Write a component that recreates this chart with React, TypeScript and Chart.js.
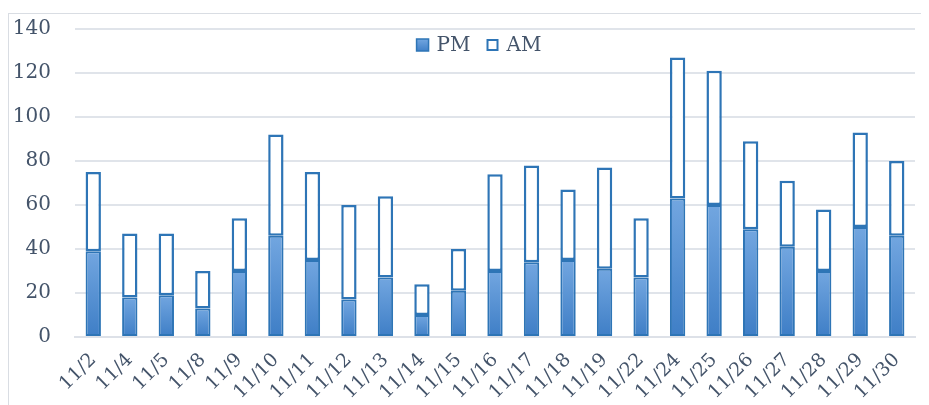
import React, { useEffect, useRef } from "react";
import { Chart, registerables } from "chart.js";

Chart.register(...registerables);

const categories = ["11/2", "11/4", "11/5", "11/8", "11/9", "11/10", "11/11", "11/12", "11/13", "11/14", "11/15", "11/16", "11/17", "11/18", "11/19", "11/22", "11/24", "11/25", "11/26", "11/27", "11/28", "11/29", "11/30"];
const pmValues = [39, 18, 19, 13, 30, 46, 35, 17, 27, 10, 21, 30, 34, 35, 31, 27, 63, 60, 49, 41, 30, 50, 46];
const amValues = [36, 29, 28, 17, 24, 46, 40, 43, 37, 14, 19, 44, 44, 32, 46, 27, 64, 61, 40, 30, 28, 43, 34];
const yTicks = [0, 20, 40, 60, 80, 100, 120, 140];

const FONT = "'DejaVu Serif', serif";
const TEXT = "#44546a";
const BLUE = "#2e75b6";

const legendPlugin = {
  id: "topLegend",
  afterDraw(chart: any) {
    const c = chart.ctx;
    const items = chart.data.datasets.map((d: any) => d.label);
    c.save();
    c.font = `20px ${FONT}`;
    c.textBaseline = "middle";
    const box = 12;
    const gap = 8;
    const itemGap = 16;
    let total = 0;
    items.forEach((t: string, i: number) => {
      total += box + gap + c.measureText(t).width + (i < items.length - 1 ? itemGap : 0);
    });
    const cy = 35;
    let x = 471 - total / 2;
    items.forEach((t: string, i: number) => {
      if (i === 0) {
        const g = c.createLinearGradient(0, cy - box / 2, 0, cy + box / 2);
        g.addColorStop(0, "#72a6e0");
        g.addColorStop(1, "#4080c8");
        c.fillStyle = g;
        c.fillRect(x, cy - box / 2, box, box);
        c.strokeStyle = BLUE;
        c.lineWidth = 1.5;
        c.strokeRect(x, cy - box / 2, box, box);
      } else {
        c.fillStyle = "#ffffff";
        c.fillRect(x, cy - box / 2, box, box);
        c.strokeStyle = BLUE;
        c.lineWidth = 2;
        c.strokeRect(x + 1, cy - box / 2 + 1, box - 2, box - 2);
      }
      x += box + gap;
      c.fillStyle = TEXT;
      c.fillText(t, x, cy + 1);
      x += c.measureText(t).width + itemGap;
    });
    c.restore();
  },
};

export default function App() {
  const ref = useRef<HTMLCanvasElement | null>(null);
  useEffect(() => {
    if (!ref.current) return;
    const pmFill = (ctx: any) => {
      const chart = ctx.chart;
      if (!chart.chartArea || ctx.raw === undefined) return "#5b93d3";
      const ys = chart.scales.y;
      const top = ys.getPixelForValue(ctx.raw);
      const base = ys.getPixelForValue(0);
      if (!isFinite(top) || !isFinite(base) || top === base) return "#5b93d3";
      const g = chart.ctx.createLinearGradient(0, top, 0, base);
      g.addColorStop(0, "#72a6e0");
      g.addColorStop(1, "#3e7ec6");
      return g;
    };
    const chart = new Chart(ref.current, {
      type: "bar",
      data: {
        labels: categories,
        datasets: [
          {
            label: "PM",
            data: pmValues,
            backgroundColor: pmFill,
            borderColor: BLUE,
            borderWidth: 2,
            borderSkipped: false,
            barPercentage: 0.42,
            categoryPercentage: 1,
          },
          {
            label: "AM",
            data: amValues,
            backgroundColor: "#ffffff",
            borderColor: BLUE,
            borderWidth: 2.5,
            borderSkipped: false,
            barPercentage: 0.42,
            categoryPercentage: 1,
          },
        ],
      },
      options: {
        animation: false,
        responsive: false,
        layout: { padding: { top: 19, right: 14, left: 0, bottom: 0 } },
        plugins: { legend: { display: false }, tooltip: { enabled: false } },
        scales: {
          x: {
            stacked: true,
            grid: { display: false },
            border: { display: true, color: "#dde1e8", width: 2 },
            ticks: {
              color: TEXT,
              font: { family: FONT, size: 19 },
              maxRotation: 45,
              minRotation: 45,
              autoSkip: false,
              padding: 4,
            },
            afterFit: (s: any) => {
              s.height = 68;
              s.paddingLeft = 0;
              s.paddingRight = 0;
            },
          },
          y: {
            stacked: true,
            min: 0,
            max: 140,
            afterBuildTicks: (s: any) => {
              s.ticks = yTicks.map((v) => ({ value: v }));
            },
            grid: { color: "#e0e4ea", lineWidth: 2, drawTicks: false },
            border: { display: false },
            ticks: {
              color: TEXT,
              font: { family: FONT, size: 20 },
              padding: 24,
            },
            afterFit: (s: any) => {
              s.width = 67;
              s.paddingTop = 0;
              s.paddingBottom = 0;
            },
          },
        },
      },
      plugins: [legendPlugin],
    });
    return () => chart.destroy();
  }, []);
  return (
    <div style={{ position: "relative", width: 921, height: 397 }}>
      <div
        style={{
          position: "absolute",
          left: 0,
          top: 5,
          width: 940,
          height: 420,
          borderLeft: "1px solid #d9dde3",
          borderTop: "1px solid #d9dde3",
        }}
      />
      <canvas ref={ref} width={921} height={395} style={{ position: "absolute", left: 0, top: 2 }} />
    </div>
  );
}
